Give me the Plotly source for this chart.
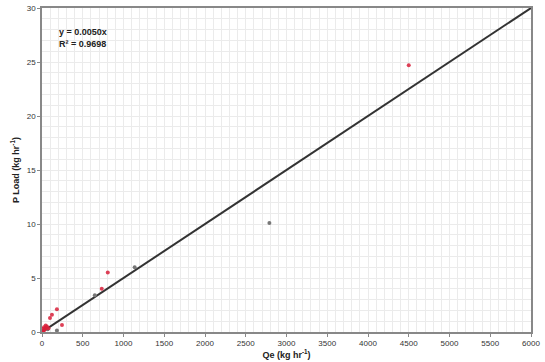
import plotly.graph_objects as go

# Red observations
red_x = [4500, 807, 733, 183, 98, 122, 245, 60, 40, 20, 10, 30, 50, 80, 5, 15, 25, 45]
red_y = [24.7, 5.5, 4.0, 2.1, 1.3, 1.6, 0.65, 0.5, 0.3, 0.15, 0.05, 0.2, 0.4, 0.35, 0.1, 0.3, 0.45, 0.6]
# Grey observations
grey_x = [2790, 1137, 648, 183, 70]
grey_y = [10.1, 6.0, 3.4, 0.15, 0.25]
# Trend line y = 0.0050x
slope = 0.0050
trend_x = [0, 6000]
trend_y = [slope * v for v in trend_x]

x_ticks = list(range(0, 6001, 500))
y_ticks = list(range(0, 31, 5))

fig = go.Figure()
fig.add_trace(go.Scatter(x=trend_x, y=trend_y, mode="lines",
                         line=dict(color="#333333", width=2), showlegend=False))
fig.add_trace(go.Scatter(x=grey_x, y=grey_y, mode="markers",
                         marker=dict(color="#777777", size=4), showlegend=False))
fig.add_trace(go.Scatter(x=red_x, y=red_y, mode="markers",
                         marker=dict(color="#d8203a", size=4, opacity=0.85), showlegend=False))

fig.add_annotation(x=180, y=27.8, xref="x", yref="y", xanchor="left", yanchor="middle",
                   text="<b>y = 0.0050x</b>", showarrow=False,
                   font=dict(family="Liberation Sans, Arial", size=9, color="#222"))
fig.add_annotation(x=180, y=26.7, xref="x", yref="y", xanchor="left", yanchor="middle",
                   text="<b>R² = 0.9698</b>", showarrow=False,
                   font=dict(family="Liberation Sans, Arial", size=9, color="#222"))

grid = "#ebebeb"
fig.update_xaxes(range=[0, 6000], tickvals=x_ticks, ticks="outside", ticklen=3,
                 tickcolor="#888", showline=True, linecolor="#888", linewidth=1.5, mirror=True,
                 showgrid=True, gridcolor=grid, gridwidth=1, zeroline=False, automargin=False,
                 minor=dict(dtick=100, showgrid=True, gridcolor=grid, gridwidth=1),
                 tickfont=dict(size=8, color="#333"),
                 title=dict(text="<b>Qe (kg hr<sup>-1</sup>)</b>", font=dict(size=9, color="#222"), standoff=0))
fig.update_yaxes(range=[0, 30], tickvals=y_ticks, ticks="outside", ticklen=3,
                 tickcolor="#888", showline=True, linecolor="#888", linewidth=1.5, mirror=True,
                 showgrid=True, gridcolor=grid, gridwidth=1, zeroline=False, automargin=False,
                 minor=dict(dtick=1, showgrid=True, gridcolor=grid, gridwidth=1),
                 tickfont=dict(size=8, color="#333"),
                 title=dict(text="<b>P Load (kg hr<sup>-1</sup>)</b>", font=dict(size=9, color="#222"), standoff=6))

fig.update_layout(width=545, height=362, margin=dict(l=42, r=14, t=8, b=30, autoexpand=False),
                  plot_bgcolor="white", paper_bgcolor="white",
                  font=dict(family="Liberation Sans, Arial"))
fig.write_html("out.html", config={"displayModeBar": False},
               post_script="document.body.style.margin='0';document.body.style.overflow='hidden';")
